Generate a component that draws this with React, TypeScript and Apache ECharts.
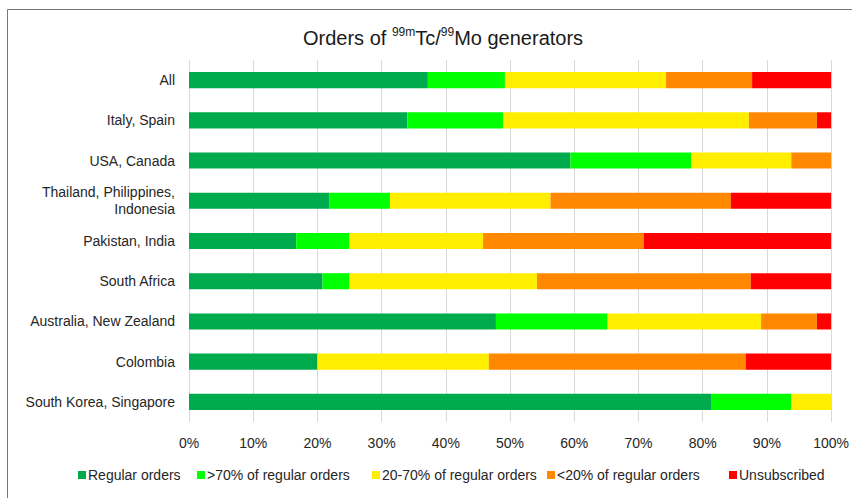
import React, { useEffect, useRef } from "react";
import * as echarts from "echarts";

const categories = [
  "All",
  "Italy, Spain",
  "USA, Canada",
  "Thailand, Philippines,\nIndonesia",
  "Pakistan, India",
  "South Africa",
  "Australia, New Zealand",
  "Colombia",
  "South Korea, Singapore",
];
const seriesNames = [
  "Regular orders",
  ">70% of regular orders",
  "20-70% of regular orders",
  "<20% of regular orders",
  "Unsubscribed",
];
const regular = [37.2, 34.0, 59.4, 21.9, 16.7, 20.8, 47.8, 20.0, 81.3];
const above70 = [12.0, 14.9, 18.8, 9.4, 8.3, 4.2, 17.4, 0, 12.5];
const mid20to70 = [25.1, 38.3, 15.6, 25.0, 20.8, 29.2, 23.9, 26.7, 6.2];
const below20 = [13.4, 10.6, 6.2, 28.1, 25.0, 33.3, 8.7, 40.0, 0];
const unsubscribed = [12.3, 2.2, 0, 15.6, 29.2, 12.5, 2.2, 13.3, 0];
const xTicks = [0, 10, 20, 30, 40, 50, 60, 70, 80, 90, 100];
const colors = ["#00AB4E", "#00FF00", "#FFEE00", "#FF8800", "#FF0000"];

export default function App() {
  const ref = useRef<HTMLDivElement>(null);
  useEffect(() => {
    if (!ref.current) return;
    const chart = echarts.init(ref.current, null, { renderer: "svg" });
    const font = "Arial, 'Liberation Sans', sans-serif";
    const values = [regular, above70, mid20to70, below20, unsubscribed];
    const txt = "#262626";
    const legendLefts = [78, 197, 372, 547, 729];
    chart.setOption({
      animation: false,
      backgroundColor: "#ffffff",
      textStyle: { fontFamily: font },
      title: {
        text: "{t|Orders of }{s|99m}{t|Tc/}{s|99}{t|Mo generators}",
        left: 298,
        top: 21,
        textStyle: {
          fontWeight: "normal",
          rich: {
            t: { fontSize: 20, color: "#1a1a1a", fontFamily: font, fontWeight: "normal", lineHeight: 24 },
            s: { fontSize: 12, color: "#1a1a1a", fontFamily: font, fontWeight: "normal", lineHeight: 24, padding: [0, 0, 12, 0] },
          },
        },
      },
      graphic: [
        {
          type: "rect",
          shape: { x: 7.5, y: 9.5, width: 900, height: 600 },
          style: { fill: "none", stroke: "#777777", lineWidth: 1 },
          silent: true,
        },
      ],
      legend: seriesNames.map((name, i) => ({
        top: 468,
        left: legendLefts[i],
        padding: 0,
        icon: "rect",
        itemWidth: 8,
        itemHeight: 8,
        textStyle: { fontSize: 14, color: txt, fontFamily: font, padding: [0, 0, 0, -3] },
        data: [name],
      })),
      grid: { left: 189, right: 19, top: 60, bottom: 76, containLabel: false },
      xAxis: {
        type: "value",
        min: 0,
        max: 100,
        interval: 10,
        axisLabel: {
          formatter: (v: number) => (xTicks.includes(v) ? v + "%" : ""),
          fontSize: 14,
          color: txt,
          margin: 14,
          fontFamily: font,
        },
        axisLine: { show: false },
        axisTick: { show: false },
        splitLine: { show: true, lineStyle: { color: "#d9d9d9", width: 1 } },
      },
      yAxis: {
        type: "category",
        inverse: true,
        data: categories,
        axisLabel: { fontSize: 14, color: txt, margin: 14, fontFamily: font, align: "right", lineHeight: 17 },
        axisLine: { show: false },
        axisTick: { show: false },
        splitLine: { show: false },
      },
      series: seriesNames.map((name, i) => ({
        name,
        type: "bar",
        stack: "total",
        barWidth: "40%",
        data: values[i],
        itemStyle: { color: colors[i] },
        emphasis: { disabled: true },
      })),
    });
    return () => chart.dispose();
  }, []);
  return (
    <div
      ref={ref}
      style={{ position: "fixed", left: 0, top: 0, width: 852, height: 498 }}
    />
  );
}
